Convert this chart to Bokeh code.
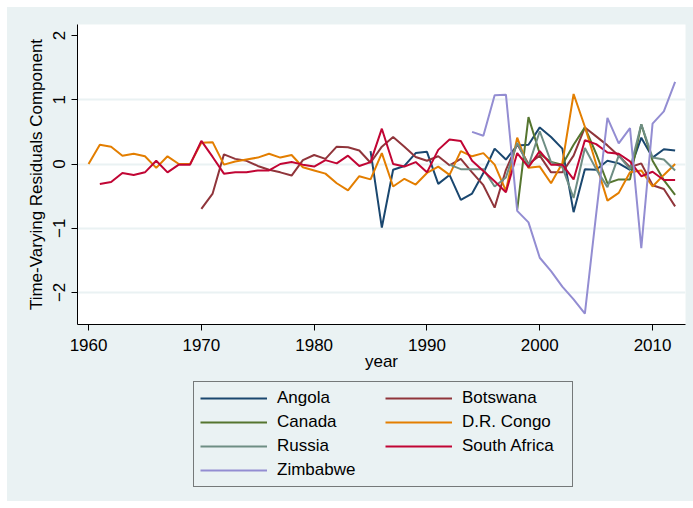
from bokeh.plotting import figure
from bokeh.layouts import column
from bokeh.models import Legend, LegendItem, FixedTicker, Range1d
from bokeh.embed import file_html
from bokeh.resources import INLINE

# ---- data ----
countries = ["Angola", "Botswana", "Canada", "D.R. Congo", "Russia", "South Africa", "Zimbabwe"]
start_years = [1985, 1970, 1998, 1960, 1992, 1961, 1994]

angola = [0.20, -0.99, -0.09, -0.03, 0.17, 0.19, -0.31, -0.17, -0.56, -0.46,
          -0.14, 0.24, 0.07, 0.29, 0.30, 0.57, 0.42, 0.24, -0.75, -0.08,
          -0.09, 0.05, 0.01, -0.09, 0.41, 0.10, 0.23, 0.21]
botswana = [-0.70, -0.46, 0.15, 0.08, 0.05, -0.03, -0.09, -0.13, -0.18, 0.06,
            0.14, 0.08, 0.27, 0.26, 0.21, 0.02, 0.27, 0.42, 0.27, 0.11,
            0.05, 0.12, -0.02, 0.08, -0.13, -0.33, -0.68, -0.09, 0.31, 0.00,
            0.13, -0.13, -0.13, 0.13, 0.57, 0.43, 0.29, 0.13, -0.05, 0.01,
            -0.33, -0.39, -0.66]
canada = [-0.71, 0.73, 0.16, 0.03, -0.01, 0.30, 0.57, 0.16, -0.30, -0.24,
          -0.24, 0.62, 0.05, -0.25, -0.48]
drcongo = [0.00, 0.30, 0.27, 0.13, 0.16, 0.12, -0.06, 0.12, 0.00, 0.00,
           0.33, 0.34, -0.01, 0.04, 0.07, 0.10, 0.16, 0.10, 0.14, -0.05,
           -0.10, -0.15, -0.30, -0.41, -0.19, -0.24, 0.17, -0.35, -0.23, -0.32,
           -0.14, -0.04, -0.17, 0.20, 0.12, 0.17, -0.01, -0.42, 0.41, -0.06,
           -0.04, -0.30, 0.01, 1.09, 0.58, 0.00, -0.57, -0.45, -0.13, -0.10,
           -0.35, -0.17, 0.00]
russia = [-0.01, -0.08, -0.08, -0.08, -0.35, -0.21, 0.33, -0.03, 0.51, 0.03,
          -0.05, -0.53, 0.25, -0.08, -0.36, 0.13, -0.08, 0.62, 0.10, 0.07,
          -0.10]
southafrica = [-0.31, -0.28, -0.14, -0.17, -0.13, 0.05, -0.13, -0.01, -0.01, 0.36,
               0.11, -0.15, -0.13, -0.13, -0.10, -0.10, 0.00, 0.03, -0.01, -0.04,
               0.06, 0.01, 0.13, -0.03, 0.03, 0.55, 0.00, -0.04, 0.03, -0.13,
               0.22, 0.38, 0.36, 0.05, -0.11, -0.27, -0.44, 0.17, -0.05, 0.20,
               -0.01, -0.01, -0.24, 0.37, 0.31, 0.18, 0.16, 0.04, -0.19, -0.12,
               -0.25, -0.25]
zimbabwe = [0.50, 0.44, 1.07, 1.08, -0.73, -0.91, -1.46, -1.67, -1.91, -2.11,
            -2.33, -0.78, 0.72, 0.32, 0.56, -1.31, 0.63, 0.82, 1.28]

series = [angola, botswana, canada, drcongo, russia, southafrica, zimbabwe]
colors = ["#1a476f", "#90353b", "#55752f", "#e37e00", "#6e8e84", "#c10534", "#938dd2"]

x_ticks = [1960, 1970, 1980, 1990, 2000, 2010]
y_ticks = [-2, -1, 0, 1, 2]

FONT = "Liberation Sans"
BG = "#eaf2f3"

# ---- main plot ----
p = figure(frame_width=608, frame_height=300,
           output_backend="svg", toolbar_location=None,
           x_range=Range1d(1959.02, 2012.92), y_range=Range1d(-2.50, 2.173),
           min_border_left=70, min_border_right=8, min_border_top=17, min_border_bottom=51)
p.border_fill_color = BG
p.background_fill_color = "white"
p.outline_line_color = None

for name, start, vals, col in zip(countries, start_years, series, colors):
    xs = list(range(start, start + len(vals)))
    p.line(xs, vals, line_color=col, line_width=2)

for ax in (p.xaxis[0], p.yaxis[0]):
    ax.axis_line_color = "black"
    ax.axis_line_width = 1
    ax.major_tick_line_color = "black"
    ax.major_tick_out = 6
    ax.major_tick_in = 0
    ax.minor_tick_line_color = None
    ax.major_label_text_font = FONT
    ax.major_label_text_font_size = "17px"
    ax.major_label_text_color = "black"
    ax.axis_label_text_font = FONT
    ax.axis_label_text_font_size = "17px"
    ax.axis_label_text_font_style = "normal"
    ax.axis_label_text_color = "black"

p.xaxis.ticker = FixedTicker(ticks=x_ticks)
p.yaxis.ticker = FixedTicker(ticks=y_ticks)
p.xaxis.axis_label = "year"
p.yaxis.axis_label = "Time-Varying Residuals Component"
p.yaxis.major_label_orientation = "vertical"
p.xaxis.major_label_standoff = 8
p.xaxis.axis_label_standoff = -2
p.yaxis.major_label_standoff = 6
p.yaxis.axis_label_standoff = 5

p.xgrid.visible = False
p.ygrid.ticker = FixedTicker(ticks=[-2, -1, 0, 1])
p.ygrid.grid_line_color = BG
p.ygrid.grid_line_width = 2

# ---- legend panel (key lines only; their points lie outside the visible range) ----
lg = figure(width=686, height=126,
            output_backend="svg", toolbar_location=None,
            x_range=Range1d(0, 1), y_range=Range1d(0, 1),
            min_border=0, x_axis_type=None, y_axis_type=None)
lg.border_fill_color = BG
lg.background_fill_color = BG
lg.outline_line_color = None
lg.xgrid.visible = False
lg.ygrid.visible = False

items = []
for name, col in zip(countries, colors):
    r = lg.line(x=[5, 6], y=[5, 6], line_color=col, line_width=2)
    items.append(LegendItem(label=name, renderers=[r]))

legend = Legend(items=items, location=(116, 14), orientation="horizontal", ncols=2,
                border_line_color="black", border_line_width=1,
                background_fill_color=BG, background_fill_alpha=1.0,
                label_text_font=FONT, label_text_font_size="17px", label_text_color="black",
                glyph_width=67, glyph_height=20, label_height=20, label_standoff=10,
                label_width=104, spacing=4, padding=6, margin=0)
lg.add_layout(legend)

layout = column(p, lg, spacing=0, margin=(7, 0, 0, 7),
                styles={"background-color": BG})
open("out.html", "w").write(file_html(layout, INLINE))
